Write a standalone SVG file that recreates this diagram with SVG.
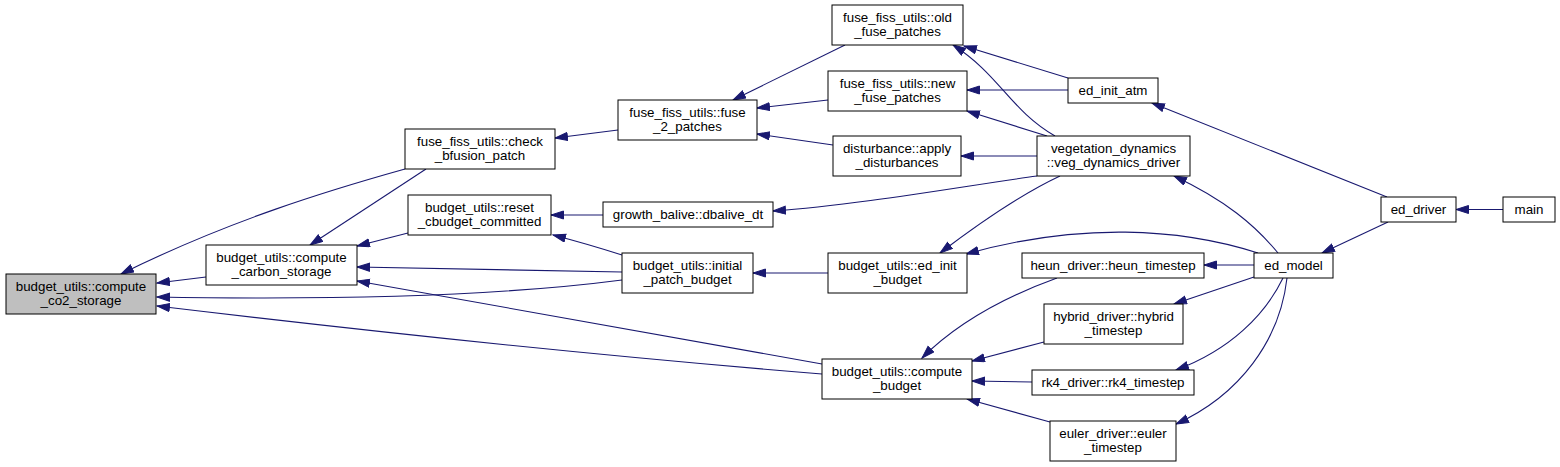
<svg xmlns="http://www.w3.org/2000/svg" width="1560" height="467" viewBox="0 0 1560 467">
<style>
.n rect{fill:#fff;stroke:#000;stroke-width:1}
.n text{font-family:"Liberation Sans",Arial,sans-serif;font-size:13.33px;fill:#000;text-anchor:middle}
#edges path{fill:none;stroke:#191970;stroke-width:1.1;marker-end:url(#ah)}
</style>
<defs>
<marker id="ah" markerUnits="userSpaceOnUse" markerWidth="14" markerHeight="10" refX="13" refY="4.5" orient="auto">
<path d="M0.5,0.5 L13,4.5 L0.5,8.5 Z" fill="#191970" stroke="#191970" stroke-width="1"/>
</marker>
</defs>
<rect width="1560" height="467" fill="#fff"/>
<g id="edges">
<path d="M405,169 C330,190 230,220 121,274"/>
<path d="M426,169 L310,245"/>
<path d="M408,233 L357,246"/>
<path d="M622,272 L357,267"/>
<path d="M622,280 C500,296 330,300 157,297"/>
<path d="M822,364 L357,281"/>
<path d="M822,374 C650,360 400,335 157,306"/>
<path d="M206,277 L157,283"/>
<path d="M618,130 L555,138"/>
<path d="M845,45 L733,100"/>
<path d="M828,100 L757,108"/>
<path d="M833,145 L757,134"/>
<path d="M603,215 L551,215"/>
<path d="M622,255 C600,248 580,242 553,235"/>
<path d="M828,273 L753,273"/>
<path d="M1055,136 C1010,110 1000,75 953,45"/>
<path d="M1068,78 L964,46"/>
<path d="M1068,90 L967,90"/>
<path d="M1047,136 L967,111"/>
<path d="M1037,156 L961,156"/>
<path d="M1037,176 C970,185 860,205 773,211"/>
<path d="M1060,176 C1030,190 990,215 940,253"/>
<path d="M1258,253 C1180,228 1080,222 966,254"/>
<path d="M1278,253 C1255,225 1225,200 1174,176"/>
<path d="M1254,265 L1204,265"/>
<path d="M1254,277 L1174,304"/>
<path d="M1283,278 C1265,315 1230,350 1176,370"/>
<path d="M1287,278 C1280,340 1240,395 1176,424"/>
<path d="M1387,197 L1152,103"/>
<path d="M1388,222 L1322,253"/>
<path d="M1503,209.5 L1456,209.5"/>
<path d="M1057,278 C1010,295 960,320 922,358"/>
<path d="M1044,342 L972,361"/>
<path d="M1032,382 L972,381"/>
<path d="M1050,422 L967,399"/>
</g>
<g id="co2" class="n"><rect x="6" y="274" width="150" height="40" style="fill:#bfbfbf"/><text x="81" y="291">budget_utils::compute</text><text x="81" y="305">_co2_storage</text></g>
<g id="carbon" class="n"><rect x="206" y="245" width="151" height="40"/><text x="281.5" y="262">budget_utils::compute</text><text x="281.5" y="276">_carbon_storage</text></g>
<g id="check" class="n"><rect x="405" y="129" width="150" height="40"/><text x="480" y="146">fuse_fiss_utils::check</text><text x="480" y="160">_bfusion_patch</text></g>
<g id="reset" class="n"><rect x="408" y="195" width="143" height="40"/><text x="479.5" y="212">budget_utils::reset</text><text x="479.5" y="226">_cbudget_committed</text></g>
<g id="fuse2" class="n"><rect x="618" y="100" width="139" height="40"/><text x="687.5" y="117">fuse_fiss_utils::fuse</text><text x="687.5" y="131">_2_patches</text></g>
<g id="dbalive" class="n"><rect x="603" y="202" width="170" height="25"/><text x="688" y="219">growth_balive::dbalive_dt</text></g>
<g id="initial" class="n"><rect x="622" y="253" width="131" height="40"/><text x="687.5" y="270">budget_utils::initial</text><text x="687.5" y="284">_patch_budget</text></g>
<g id="old" class="n"><rect x="832" y="5" width="131" height="40"/><text x="897.5" y="22">fuse_fiss_utils::old</text><text x="897.5" y="36">_fuse_patches</text></g>
<g id="new" class="n"><rect x="828" y="71" width="139" height="40"/><text x="897.5" y="88">fuse_fiss_utils::new</text><text x="897.5" y="102">_fuse_patches</text></g>
<g id="disturb" class="n"><rect x="833" y="136" width="128" height="40"/><text x="897" y="153">disturbance::apply</text><text x="897" y="167">_disturbances</text></g>
<g id="edinitbudget" class="n"><rect x="828" y="253" width="139" height="40"/><text x="897.5" y="270">budget_utils::ed_init</text><text x="897.5" y="284">_budget</text></g>
<g id="computebudget" class="n"><rect x="822" y="359" width="150" height="40"/><text x="897" y="376">budget_utils::compute</text><text x="897" y="390">_budget</text></g>
<g id="edinitatm" class="n"><rect x="1068" y="78" width="90" height="25"/><text x="1113" y="95">ed_init_atm</text></g>
<g id="veg" class="n"><rect x="1037" y="136" width="153" height="40"/><text x="1113.5" y="153">vegetation_dynamics</text><text x="1113.5" y="167">::veg_dynamics_driver</text></g>
<g id="heun" class="n"><rect x="1022" y="253" width="182" height="25"/><text x="1113" y="270">heun_driver::heun_timestep</text></g>
<g id="hybrid" class="n"><rect x="1044" y="304" width="139" height="40"/><text x="1113.5" y="321">hybrid_driver::hybrid</text><text x="1113.5" y="335">_timestep</text></g>
<g id="rk4" class="n"><rect x="1032" y="370" width="162" height="25"/><text x="1113" y="387">rk4_driver::rk4_timestep</text></g>
<g id="euler" class="n"><rect x="1050" y="421" width="126" height="40"/><text x="1113" y="438">euler_driver::euler</text><text x="1113" y="452">_timestep</text></g>
<g id="edmodel" class="n"><rect x="1254" y="253" width="79" height="25"/><text x="1293.5" y="270">ed_model</text></g>
<g id="eddriver" class="n"><rect x="1381" y="197" width="75" height="25"/><text x="1418.5" y="214">ed_driver</text></g>
<g id="main" class="n"><rect x="1503" y="197" width="52" height="25"/><text x="1529" y="214">main</text></g>
</svg>
